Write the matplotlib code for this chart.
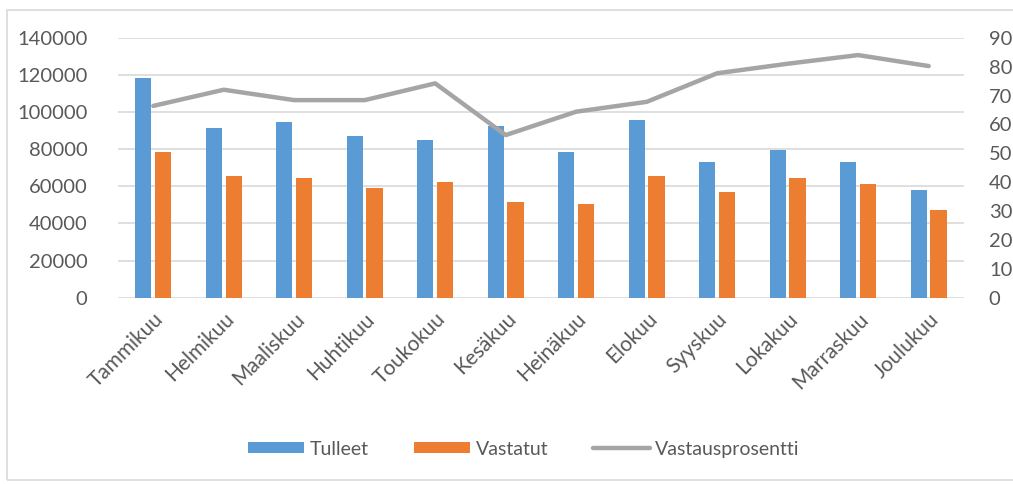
import matplotlib.pyplot as plt
import matplotlib.patches as mpatches
import numpy as np

months = ['Tammikuu', 'Helmikuu', 'Maaliskuu', 'Huhtikuu', 'Toukokuu', 'Kesäkuu',
          'Heinäkuu', 'Elokuu', 'Syyskuu', 'Lokakuu', 'Marraskuu', 'Joulukuu']
tulleet = [118500, 91500, 94500, 87000, 85000, 92500, 78500, 95800, 73000, 79500, 73000, 58000]
vastatut = [78500, 65700, 64500, 59000, 62300, 51500, 50500, 65500, 57000, 64500, 61200, 47200]
vastausprosentti = [66.4, 72.0, 68.4, 68.4, 74.2, 56.3, 64.4, 67.8, 77.7, 81.0, 84.0, 80.2]

BLUE = '#5B9BD5'
ORANGE = '#ED7D31'
GREY = '#A5A5A5'
TEXT = '#595959'

plt.rcParams['font.family'] = ['Lato', 'DejaVu Sans']

fig = plt.figure(figsize=(10.13, 4.84), dpi=100)
ax = fig.add_axes([0.1165, 0.385, 0.835, 0.537])
ax2 = ax.twinx()

x = np.arange(len(months))
w = 0.23
b1 = ax.bar(x - 0.14, tulleet, w, color=BLUE, label='Tulleet', zorder=2)
b2 = ax.bar(x + 0.14, vastatut, w, color=ORANGE, label='Vastatut', zorder=2)
l1, = ax2.plot(x, vastausprosentti, color=GREY, lw=3.2, label='Vastausprosentti',
               solid_capstyle='round')

ax.set_xlim(-0.5, len(months) - 0.5)
ax.set_ylim(0, 140000)
ax.set_yticks(np.arange(0, 140001, 20000))
ax2.set_ylim(0, 90)
ax2.set_yticks(np.arange(0, 91, 10))

ax.grid(axis='y', color='#D9D9D9', lw=1.2, zorder=0)
ax.set_axisbelow(True)
for a in (ax, ax2):
    for s in a.spines.values():
        s.set_visible(False)
    a.tick_params(length=0, colors=TEXT, labelsize=14.5)

ax.set_xticks(x)
ax.set_xticklabels(months, rotation=45, ha='right', rotation_mode='anchor', fontsize=15)
ax.tick_params(axis='x', pad=8)
ax.tick_params(axis='y', pad=22)
ax2.tick_params(axis='y', pad=18)

fig.legend([b1, b2, l1], ['Tulleet', 'Vastatut', 'Vastausprosentti'],
           loc='center', bbox_to_anchor=(0.517, 0.072), ncol=3, frameon=False,
           fontsize=14, labelcolor=TEXT, handlelength=2.9, handleheight=0.5,
           handletextpad=0.3, columnspacing=2.3)

fig.patches.append(mpatches.Rectangle((7 / 1013, 4 / 484), 1.0, 470 / 484,
                                      transform=fig.transFigure, fill=False,
                                      edgecolor='#D9D9D9', lw=1.2))

fig.savefig('out.png', dpi=100)
